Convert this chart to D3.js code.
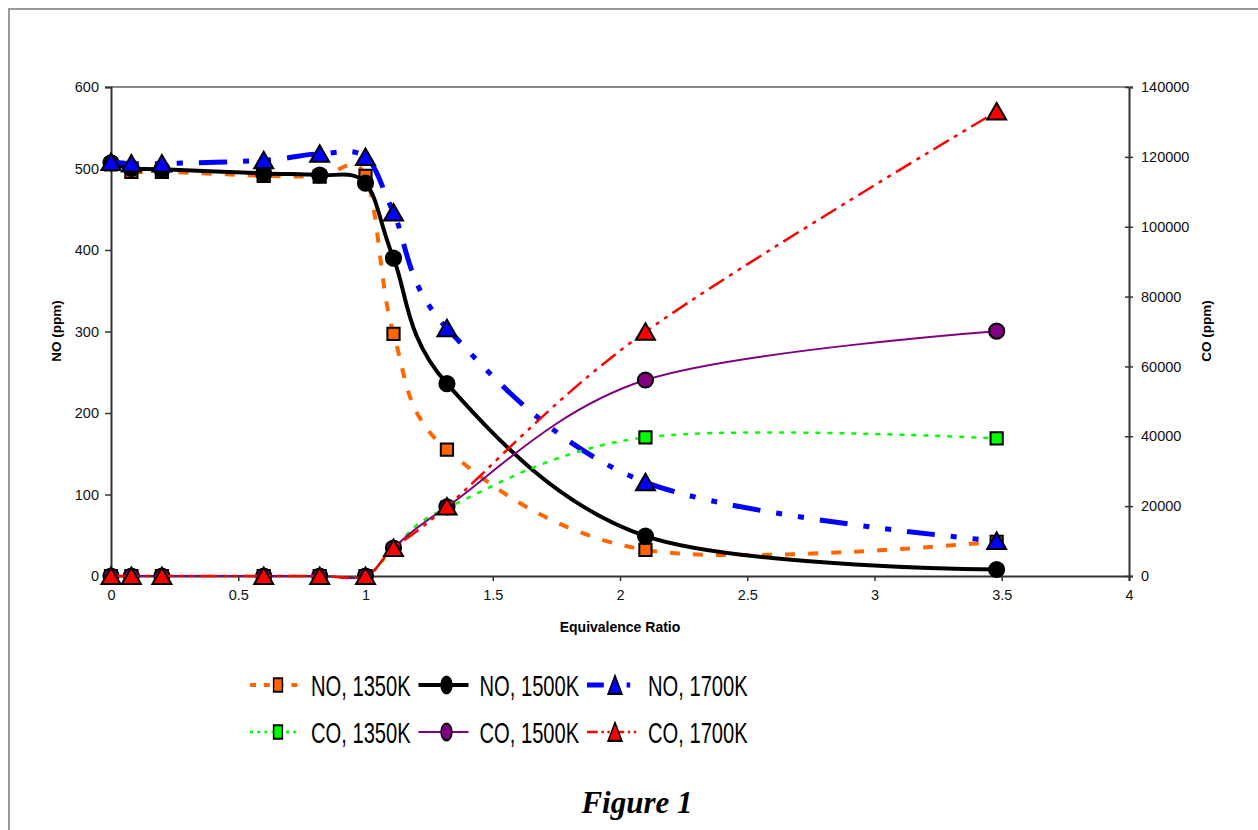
<!DOCTYPE html>
<html>
<head>
<meta charset="utf-8">
<script src="https://cdn.jsdelivr.net/npm/d3@7"></script>
<style>
  body { margin: 0; background: #fff; }
  svg { display: block; font-family: Arial, "Liberation Sans", sans-serif; }
</style>
</head>
<body>
<svg id="chart" width="1258" height="830"></svg>
<script>
// equivalence ratio of each measured point
const phi = [0, 0.08, 0.2, 0.6, 0.82, 1.0, 1.11, 1.32, 2.1, 3.48];

// NO (ppm), left axis
const no1350 = [505, 496, 496, 491, 490, 491, 297, 155, 32, 42];
const no1500 = [507, 500, 499, 494, 492, 482, 390, 236, 49, 8];
const no1700 = [508, 506, 506, 510, 518, 514, 446, 304, 115, 43];

// CO (ppm), right axis
const co1350 = [0, 0, 0, 0, 0, 0, 7500, 19500, 39700, 39400];
const co1500 = [0, 0, 0, 0, 0, 0, 8000, 19800, 56100, 70100];
const co1700 = [0, 0, 0, 0, 0, 0, 8000, 19900, 69900, 133000];

const xTicks = [0, 0.5, 1, 1.5, 2, 2.5, 3, 3.5, 4];
const noTicks = [0, 100, 200, 300, 400, 500, 600];
const coTicks = [0, 20000, 40000, 60000, 80000, 100000, 120000, 140000];

const series = [
  { name: "NO, 1350K", values: no1350, axis: "left", color: "#FF6600", width: 4, dash: "10,13", marker: "square" },
  { name: "NO, 1500K", values: no1500, axis: "left", color: "#000000", width: 4, dash: null, marker: "circle" },
  { name: "NO, 1700K", values: no1700, axis: "left", color: "#0000FF", width: 5, dash: "28,16,6,16,6,16", marker: "triangle" },
  { name: "CO, 1350K", values: co1350, axis: "right", color: "#00FF00", width: 2.5, dash: "5,7", marker: "square" },
  { name: "CO, 1500K", values: co1500, axis: "right", color: "#800080", width: 2, dash: null, marker: "circle" },
  { name: "CO, 1700K", values: co1700, axis: "right", color: "#FF0000", width: 2.5, dash: "18,6,4,6,4,6", marker: "triangle" }
];

const svg = d3.select("#chart");

// outer frame
svg.append("path")
  .attr("d", "M9,830V9H1258")
  .attr("fill", "none")
  .attr("stroke", "#999")
  .attr("stroke-width", 2);

const x = d3.scaleLinear().domain([0, 4]).range([111, 1129]);
const yNO = d3.scaleLinear().domain([0, 600]).range([576, 87]);
const yCO = d3.scaleLinear().domain([0, 140000]).range([576, 87]);

// plot area top border
svg.append("line")
  .attr("x1", 111).attr("x2", 1129)
  .attr("y1", 87).attr("y2", 87)
  .attr("stroke", "#888").attr("stroke-width", 2);

// axes
const axisColor = "#333";

const gx = svg.append("g")
  .attr("transform", "translate(0,576)")
  .call(d3.axisBottom(x).tickValues(xTicks).tickSizeOuter(0).tickSize(5).tickPadding(9)
    .tickFormat(d3.format("")));

const gl = svg.append("g")
  .attr("transform", "translate(111,0)")
  .call(d3.axisLeft(yNO).tickValues(noTicks).tickSizeOuter(0).tickSize(6).tickPadding(6));

const gr = svg.append("g")
  .attr("transform", "translate(1129,0)")
  .call(d3.axisRight(yCO).tickValues(coTicks).tickSizeOuter(0).tickSize(4).tickPadding(8)
    .tickFormat(d3.format("d")));

// right axis ticks cross the line
gr.selectAll(".tick line").attr("x1", -4);

[gx, gl, gr].forEach(g => {
  g.select(".domain").attr("stroke", axisColor).attr("stroke-width", 2);
  g.selectAll(".tick line").attr("stroke", axisColor).attr("stroke-width", 1.5);
  g.selectAll(".tick text").attr("fill", "#111").style("font-size", "14.5px");
});

// axis titles
svg.append("text")
  .attr("transform", "translate(61,331) rotate(-90)")
  .attr("text-anchor", "middle")
  .style("font-size", "13.5px").style("font-weight", "bold")
  .text("NO (ppm)");

svg.append("text")
  .attr("transform", "translate(1211,331) rotate(-90)")
  .attr("text-anchor", "middle")
  .style("font-size", "13.5px").style("font-weight", "bold")
  .text("CO (ppm)");

svg.append("text")
  .attr("x", 620).attr("y", 632)
  .attr("text-anchor", "middle")
  .style("font-size", "14px").style("font-weight", "bold")
  .text("Equivalence Ratio");

// markers
function markerPath(type) {
  if (type === "triangle") return "M0,-8.5L9.5,8L-9.5,8Z";
  if (type === "square") return d3.symbol(d3.symbolSquare, 150)();
  return d3.symbol(d3.symbolCircle, 180)();
}

// smoothed lines like the spreadsheet chart
series.forEach(s => {
  const yScale = s.axis === "left" ? yNO : yCO;
  const line = d3.line()
    .x((d, i) => x(phi[i]))
    .y(d => yScale(d))
    .curve(d3.curveCatmullRom.alpha(0));

  const g = svg.append("g").attr("class", "series");

  g.append("path")
    .datum(s.values)
    .attr("d", line)
    .attr("fill", "none")
    .attr("stroke", s.color)
    .attr("stroke-width", s.width)
    .attr("stroke-dasharray", s.dash);

  g.selectAll(".mark")
    .data(s.values)
    .enter()
    .append("path")
    .attr("class", "mark")
    .attr("transform", (d, i) => `translate(${x(phi[i])},${yScale(d)})`)
    .attr("d", markerPath(s.marker))
    .attr("fill", s.color)
    .attr("stroke", "#000")
    .attr("stroke-width", 2);
});

// legend
const legendCols = [250, 418.5, 587];
const legendRows = [685, 732];
const squeeze = 0.72;

series.forEach((s, i) => {
  const col = i % 3;
  const row = Math.floor(i / 3);
  const item = svg.append("g")
    .attr("transform", `translate(${legendCols[col]},${legendRows[row]})`);

  item.append("line")
    .attr("x1", 0).attr("x2", 50)
    .attr("stroke", s.color)
    .attr("stroke-width", s.width)
    .attr("stroke-dasharray", s.dash ? s.dash.split(",").map(v => +v * 0.6).join(",") : null);

  item.append("path")
    .attr("transform", `translate(28,0) scale(${squeeze},1.1)`)
    .attr("d", markerPath(s.marker))
    .attr("fill", s.color)
    .attr("stroke", "#000")
    .attr("stroke-width", 2);

  item.append("text")
    .attr("transform", `translate(61,10.5) scale(${squeeze},1.03)`)
    .style("font-size", "28px")
    .attr("fill", "#000")
    .text(s.name);
});

// caption
svg.append("text")
  .attr("x", 637).attr("y", 813)
  .attr("text-anchor", "middle")
  .style("font-family", "'Liberation Serif', 'Times New Roman', serif")
  .style("font-size", "31px")
  .style("font-weight", "bold")
  .style("font-style", "italic")
  .text("Figure 1");
</script>
</body>
</html>
